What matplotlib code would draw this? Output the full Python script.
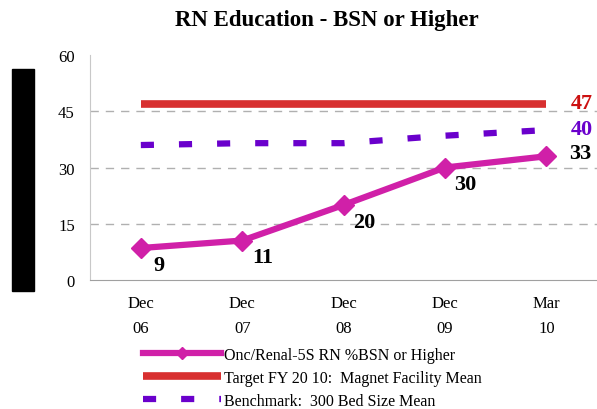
import matplotlib.pyplot as plt
import matplotlib.patches as patches
import numpy as np

plt.rcParams['font.family'] = ['Liberation Serif', 'DejaVu Serif']

# data
periods = ['Dec\n06', 'Dec\n07', 'Dec\n08', 'Dec\n09', 'Mar\n10']
onc = [8.5, 10.5, 20, 30, 33]
onc_labels = ['9', '11', '20', '30', '33']
target = [47, 47, 47, 47, 47]
bench = [36, 36.5, 36.5, 38.5, 40]

c_onc = '#d020a8'
c_tgt = '#d83030'
c_ben = '#6a00cc'

fig = plt.figure(figsize=(5.97, 4.10), dpi=100)
ax = fig.add_axes([0.151, 0.315, 0.849, 0.548])

x = np.arange(len(periods))
ax.plot(x, target, color=c_tgt, lw=5.5, solid_capstyle='butt',
        label='Target FY 20 10:  Magnet Facility Mean', zorder=3)
ax.plot(x, bench, color=c_ben, lw=4.5, ls=(0, (2.1, 4.0)),
        label='Benchmark:  300 Bed Size Mean', zorder=3)
ax.plot(x, onc, color=c_onc, lw=4.5, marker='D', ms=10,
        label='Onc/Renal-5S RN %BSN or Higher', zorder=4)

# point labels
offs = [(0.18, -4.5), (0.2, -4.5), (0.2, -4.5), (0.2, -4.5), (0.33, 0.9)]
for i, (v, lab) in enumerate(zip(onc, onc_labels)):
    ax.text(x[i] + offs[i][0], v + offs[i][1], lab, fontsize=16, fontweight='bold',
            ha='center', va='center', color='black')
ax.text(4.35, target[-1] + 0.3, '47', fontsize=16, fontweight='bold',
        ha='center', va='center', color='#cc1010')
ax.text(4.35, bench[-1] + 0.3, '40', fontsize=16, fontweight='bold',
        ha='center', va='center', color=c_ben)

ax.set_xlim(-0.5, 4.5)
ax.set_ylim(0, 60)
ax.set_yticks([0, 15, 30, 45, 60])
ax.set_xticks(x)
ax.set_xticklabels(periods, linespacing=1.7)
ax.tick_params(axis='both', length=0, labelsize=12)
ax.tick_params(axis='y', pad=11)
ax.tick_params(axis='x', pad=11)
for t in [15, 30, 45]:
    ax.axhline(t, color='#b0b0b0', lw=1, ls=(0, (6, 5)), zorder=1)
for s in ['top', 'right']:
    ax.spines[s].set_visible(False)
ax.spines['left'].set_color('#c8c8c8')
ax.spines['bottom'].set_color('#a0a0a0')

handles, labels = ax.get_legend_handles_labels()
order = [2, 0, 1]
leg = fig.legend([handles[i] for i in order], [labels[i] for i in order],
                 loc='upper left', bbox_to_anchor=(0.228, 0.168), frameon=False,
                 fontsize=11.5, handlelength=4.9, handletextpad=0.2,
                 labelspacing=0.45, borderaxespad=0)
leg.legend_handles[0].set_markersize(6)

fig.text(0.548, 0.95, 'RN Education - BSN or Higher', fontsize=16.5,
         fontweight='bold', ha='center', va='center')

fig.patches.append(patches.Rectangle((12/597, 1 - 292/410), 22/597, 222/410,
                                     transform=fig.transFigure, color='black'))

fig.savefig('out.png', dpi=100)
